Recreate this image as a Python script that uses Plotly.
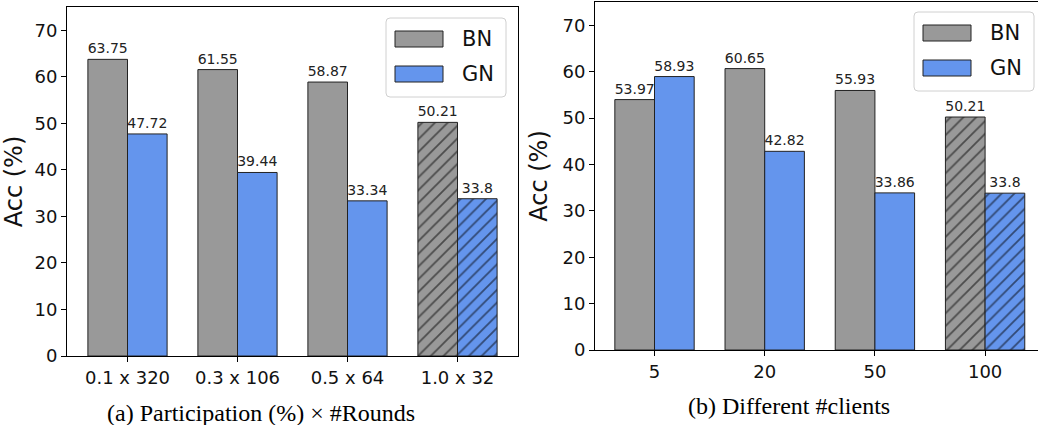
import plotly.graph_objects as go

W, H = 1038, 425

# ---------------- data ----------------
left_categories = ["0.1 x 320", "0.3 x 106", "0.5 x 64", "1.0 x 32"]
left_bn = [63.75, 61.55, 58.87, 50.21]
left_gn = [47.72, 39.44, 33.34, 33.8]

right_categories = ["5", "20", "50", "100"]
right_bn = [53.97, 60.65, 55.93, 50.21]
right_gn = [58.93, 42.82, 33.86, 33.8]

hatch_flags = ["", "", "", "/"]   # last group is hatched
series_names = ["BN", "GN"]
y_ticks = [0, 10, 20, 30, 40, 50, 60, 70]

left_caption = "(a) Participation (%) \u00d7 #Rounds"
right_caption = "(b) Different #clients"
y_title = "Acc (%)"

# ---------------- style ----------------
GRAY = "#999999"
BLUE = "#6495ED"
EDGE = "#222222"
FONT = "DejaVu Sans"


def px(x):
    return x / W


def py(y):
    return 1 - y / H


fig = go.Figure()


def add_bars(cats, bn, gn, xa, ya):
    for name, vals, col in [(series_names[0], bn, GRAY), (series_names[1], gn, BLUE)]:
        fig.add_trace(go.Bar(
            x=cats, y=vals, name=name,
            xaxis=xa, yaxis=ya,
            marker=dict(
                color=col,
                line=dict(color=EDGE, width=1),
                pattern=dict(shape=hatch_flags, fgcolor="#000000",
                             bgcolor=col, size=9, solidity=0.2, fillmode="overlay"),
            ),
            text=[f"{v:g}" for v in vals],
            textposition="outside",
            constraintext="none",
            cliponaxis=False,
            textfont=dict(family=FONT, size=14, color="#222222"),
            showlegend=False,
            hoverinfo="skip",
        ))


add_bars(left_categories, left_bn, left_gn, "x", "y")
add_bars(right_categories, right_bn, right_gn, "x2", "y2")

axis_common = dict(
    showline=True, linecolor="black", linewidth=1,
    ticks="outside", ticklen=5, tickcolor="black", tickwidth=1,
    showgrid=False, zeroline=False, automargin=False,
    tickfont=dict(family=FONT, size=18, color="#111111"),
)

title_font = dict(family=FONT, size=24, color="#111111")

fig.update_layout(
    width=W, height=H,
    margin=dict(l=0, r=0, t=0, b=0),
    paper_bgcolor="white", plot_bgcolor="white",
    barmode="group", bargap=0.28, bargroupgap=0,
    xaxis=dict(domain=[px(67), px(518)], anchor="y", type="category",
               range=[-0.55, 3.55], mirror=True, **axis_common),
    yaxis=dict(domain=[py(356), py(7)], anchor="x", range=[0, 75],
               tickvals=y_ticks, mirror=True,
               title=dict(text=y_title, font=title_font, standoff=8),
               **axis_common),
    xaxis2=dict(domain=[px(595), 1.0], anchor="y2", type="category",
                range=[-0.54, 3.48], mirror=True, **axis_common),
    yaxis2=dict(domain=[py(350), py(2)], anchor="x2", range=[0, 75],
                tickvals=y_ticks, mirror=False,
                title=dict(text=y_title, font=title_font, standoff=8),
                **axis_common),
)

# ---------------- custom legends ----------------
shapes = []
annotations = []


def rounded_box(x0, y0, x1, y1, r=4):
    X0, X1 = px(x0), px(x1)
    Y0, Y1 = py(y0), py(y1)
    rx, ry = r / W, r / H
    return (f"M {X0+rx},{Y0} L {X1-rx},{Y0} Q {X1},{Y0} {X1},{Y0-ry} "
            f"L {X1},{Y1+ry} Q {X1},{Y1} {X1-rx},{Y1} L {X0+rx},{Y1} "
            f"Q {X0},{Y1} {X0},{Y1+ry} L {X0},{Y0-ry} Q {X0},{Y0} {X0+rx},{Y0} Z")


def add_legend(dx, dy):
    shapes.append(dict(type="path", xref="paper", yref="paper",
                       path=rounded_box(386 + dx, 18 + dy, 506 + dx, 97 + dy),
                       fillcolor="rgba(255,255,255,0.85)",
                       line=dict(color="#d0d0d0", width=1)))
    for (name, col, yc) in [(series_names[0], GRAY, 39), (series_names[1], BLUE, 74)]:
        shapes.append(dict(type="rect", xref="paper", yref="paper",
                           x0=px(395 + dx), x1=px(443 + dx),
                           y0=py(yc - 8 + dy), y1=py(yc + 8 + dy),
                           fillcolor=col, line=dict(color=EDGE, width=1)))
        annotations.append(dict(text=name, xref="paper", yref="paper",
                                x=px(460 + dx), y=py(yc + dy),
                                xanchor="left", yanchor="middle", showarrow=False,
                                font=dict(family=FONT, size=21, color="#111111")))


add_legend(0, 0)
add_legend(528, -6)

annotations.append(dict(text=left_caption, xref="paper", yref="paper",
                        x=px(261), y=py(413), xanchor="center", yanchor="middle",
                        showarrow=False,
                        font=dict(family="Liberation Serif", size=24, color="black")))
annotations.append(dict(text=right_caption, xref="paper", yref="paper",
                        x=px(789), y=py(406), xanchor="center", yanchor="middle",
                        showarrow=False,
                        font=dict(family="Liberation Serif", size=24, color="black")))

fig.update_layout(shapes=shapes, annotations=annotations, hovermode=False)

fig.write_html("out.html",
               config={"displayModeBar": False},
               post_script="document.body.style.margin='0';document.body.style.overflow='hidden';")
